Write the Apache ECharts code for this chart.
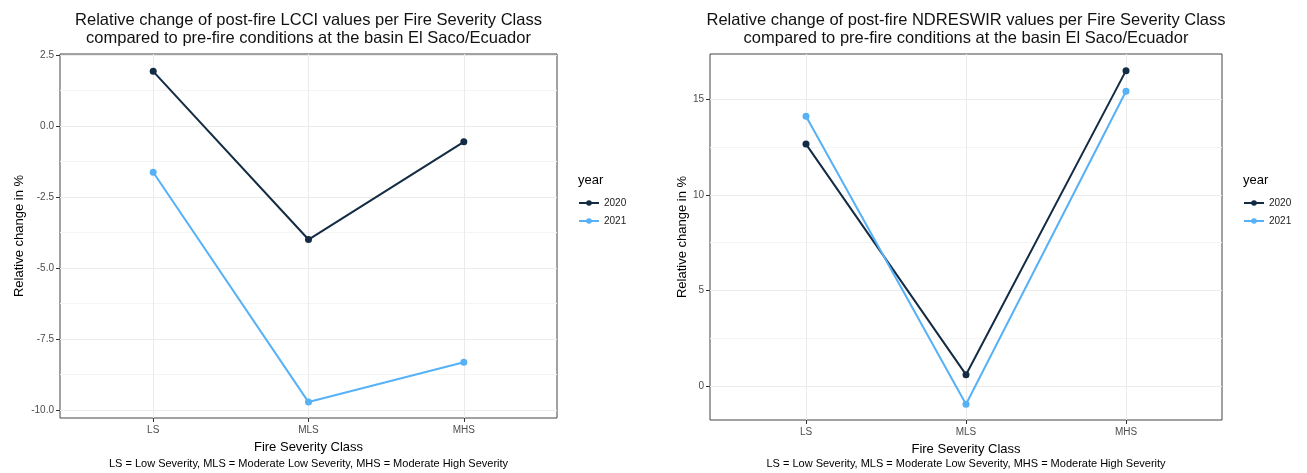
<!DOCTYPE html>
<html><head><meta charset="utf-8">
<script src="https://cdn.jsdelivr.net/npm/echarts@6/dist/echarts.min.js"></script>
<style>html,body{margin:0;padding:0;background:#fff}#c{width:1307px;height:473px}</style>
</head><body><div id="c"></div>
<script>
// ---- data ----
const categories = ['LS', 'MLS', 'MHS'];
const years = ['2020', '2021'];
const lcci2020 = [1.92, -4.0, -0.56];
const lcci2021 = [-1.63, -9.72, -8.32];
const ndre2020 = [12.66, 0.6, 16.5];
const ndre2021 = [14.12, -0.95, 15.42];
const lcciTicks = [-10, -7.5, -5, -2.5, 0, 2.5];
const lcciMinor = [-8.75, -6.25, -3.75, -1.25, 1.25];
const ndreTicks = [0, 5, 10, 15];
const ndreMinor = [2.5, 7.5, 12.5];
const titles = [
  'Relative change of post-fire LCCI values per Fire Severity Class\ncompared to pre-fire conditions at the basin El Saco/Ecuador',
  'Relative change of post-fire NDRESWIR values per Fire Severity Class\ncompared to pre-fire conditions at the basin El Saco/Ecuador'
];
const caption = 'LS = Low Severity, MLS = Moderate Low Severity, MHS = Moderate High Severity';
const xTitle = 'Fire Severity Class';
const yTitle = 'Relative change in %';
const legendTitle = 'year';

// ---- style ----
const FONT = "'Liberation Sans', Arial, sans-serif";
const colors = ['#132B43', '#56B1F7'];
const pos = categories.map((c, i) => i + 1);

const panels = [
  { left: 60, top: 54, width: 497, height: 364, ymin: -10.28, ymax: 2.53, ticks: lcciTicks, minor: lcciMinor, dec: 1, s: [lcci2020, lcci2021], legX: 578, yGap: 34 },
  { left: 710, top: 54, width: 512, height: 366, ymin: -1.77, ymax: 17.37, ticks: ndreTicks, minor: ndreMinor, dec: 0, s: [ndre2020, ndre2021], legX: 1243, yGap: 11 }
];

const option = {
  animation: false,
  backgroundColor: '#fff',
  textStyle: { fontFamily: FONT },
  grid: panels.map(p => ({
    left: p.left, top: p.top, width: p.width, height: p.height,
    show: true, borderColor: '#444', borderWidth: 1, backgroundColor: 'transparent'
  })),
  legend: panels.map((p, i) => ({
    data: years,
    orient: 'vertical',
    left: p.legX,
    top: 198,
    padding: 0,
    itemWidth: 20,
    itemHeight: 7,
    itemGap: 8,
    textStyle: { fontSize: 10, color: '#1a1a1a', fontFamily: FONT },
    selectedMode: false
  })),
  xAxis: panels.map((p, i) => ({
    type: 'value', gridIndex: i, min: 0.4, max: 3.6,
    name: xTitle, nameLocation: 'middle', nameGap: 23,
    nameTextStyle: { fontSize: 13, color: '#000', fontFamily: FONT },
    axisLine: { show: false, onZero: false },
    axisTick: { show: true, customValues: pos, length: 4, inside: false, lineStyle: { color: '#333' } },
    axisLabel: { customValues: pos, formatter: v => categories[Math.round(v) - 1], fontSize: 10, color: '#4d4d4d', margin: 7, fontFamily: FONT },
    splitLine: { show: true, lineStyle: { color: '#ebebeb', width: 1 } }
  })),
  yAxis: [].concat(...panels.map((p, i) => [
    {
      type: 'value', gridIndex: i, min: p.ymin, max: p.ymax,
      name: yTitle, nameLocation: 'middle', nameGap: p.yGap,
      nameTextStyle: { fontSize: 13, color: '#000', fontFamily: FONT },
      axisLine: { show: false, onZero: false },
      axisTick: { show: true, customValues: p.ticks, length: 4, lineStyle: { color: '#333' } },
      axisLabel: { customValues: p.ticks, formatter: v => v.toFixed(p.dec), fontSize: 10, color: '#4d4d4d', margin: 6, fontFamily: FONT },
      splitLine: { show: true, lineStyle: { color: '#ebebeb', width: 1 } }
    },
    {
      type: 'value', gridIndex: i, min: p.ymin, max: p.ymax, position: 'left',
      axisLine: { show: false, onZero: false }, axisLabel: { show: false },
      axisTick: { show: false, customValues: p.minor },
      splitLine: { show: true, lineStyle: { color: '#f4f4f4', width: 1 } }
    }
  ])),
  series: [].concat(...panels.map((p, i) => p.s.map((vals, k) => ({
    type: 'line', name: years[k], xAxisIndex: i, yAxisIndex: i * 2,
    data: vals.map((v, j) => [pos[j], v]),
    symbol: 'circle', symbolSize: 7, showSymbol: true,
    lineStyle: { width: 2, color: colors[k] },
    itemStyle: { color: colors[k] },
    z: 3
  })))),
  graphic: [].concat(...panels.map((p, i) => [
    {
      type: 'text', x: p.left + p.width / 2, y: 11,
      style: { text: titles[i], fill: '#111', font: '16.5px ' + FONT, textAlign: 'center', textVerticalAlign: 'top', lineHeight: 18 },
      silent: true
    },
    {
      type: 'text', x: p.left + p.width / 2, y: 458,
      style: { text: caption, fill: '#000', font: '11px ' + FONT, textAlign: 'center', textVerticalAlign: 'top' },
      silent: true
    },
    {
      type: 'text', x: p.legX, y: 174,
      style: { text: legendTitle, fill: '#000', font: '13px ' + FONT, textVerticalAlign: 'top' },
      silent: true
    }
  ]))
};

const chart = echarts.init(document.getElementById('c'), null, { renderer: 'canvas' });
chart.setOption(option);
</script></body></html>
